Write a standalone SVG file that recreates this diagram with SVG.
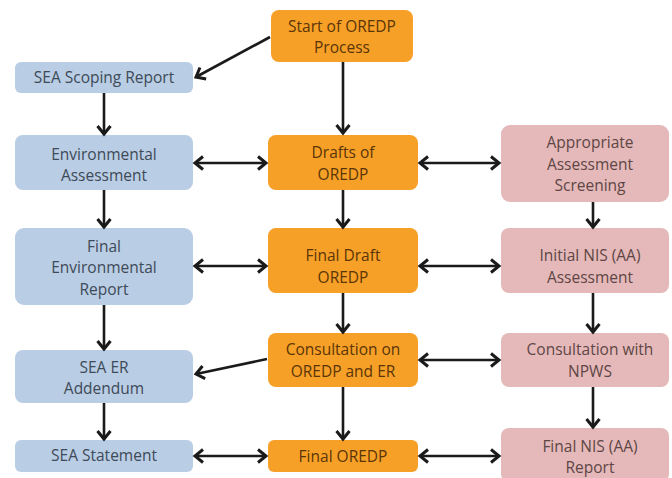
<svg xmlns="http://www.w3.org/2000/svg" width="672" height="478" viewBox="0 0 672 478">
<defs>
<marker id="ah" markerUnits="userSpaceOnUse" markerWidth="16" markerHeight="16" viewBox="0 0 16 16" refX="13" refY="8" orient="auto-start-reverse">
<path d="M5,1.5 L13,8 L5,14.5" fill="none" stroke="#1a1a1a" stroke-width="3" stroke-linejoin="miter"/>
</marker>
</defs>
<style>
.b rect{fill:#b9cde4}
.o rect{fill:#f7a027}
.p rect{fill:#e5b9b9}
text{font-family:"Open Sans","Noto Sans","Liberation Sans",sans-serif;font-size:15.5px;text-anchor:middle}
.b text{fill:#3e4a58}
.o text{fill:#5a3508}
.p text{fill:#5e4646}
#connectors line{stroke:#1a1a1a;stroke-width:2.6;fill:none;marker-end:url(#ah)}
#connectors line.d{marker-start:url(#ah)}
</style>
<rect width="672" height="478" fill="#ffffff"/>
<g id="start" class="o"><rect x="271" y="10" width="142" height="52" rx="8"/><text x="342" y="32">Start of OREDP</text><text x="342" y="53">Process</text></g>
<g id="scoping" class="b"><rect x="15" y="62" width="178" height="31" rx="6"/><text x="104" y="83">SEA Scoping Report</text></g>
<g id="envassess" class="b"><rect x="15" y="135" width="178" height="55" rx="8"/><text x="104" y="160">Environmental</text><text x="104" y="181">Assessment</text></g>
<g id="drafts" class="o"><rect x="268" y="135" width="150" height="55" rx="8"/><text x="343" y="158">Drafts of</text><text x="343" y="180">OREDP</text></g>
<g id="aascreen" class="p"><rect x="501" y="125" width="168" height="77" rx="9"/><text x="590" y="148">Appropriate</text><text x="590" y="170">Assessment</text><text x="590" y="191">Screening</text></g>
<g id="finalenv" class="b"><rect x="15" y="228" width="178" height="77" rx="9"/><text x="104" y="252">Final</text><text x="104" y="273">Environmental</text><text x="104" y="295">Report</text></g>
<g id="finaldraft" class="o"><rect x="268" y="228" width="150" height="65" rx="8"/><text x="343" y="261">Final Draft</text><text x="343" y="283">OREDP</text></g>
<g id="initialnis" class="p"><rect x="501" y="228" width="168" height="65" rx="8"/><text x="590" y="261">Initial NIS (AA)</text><text x="590" y="283">Assessment</text></g>
<g id="addendum" class="b"><rect x="15" y="350" width="178" height="53" rx="8"/><text x="104" y="373">SEA ER</text><text x="104" y="394">Addendum</text></g>
<g id="consult" class="o"><rect x="268" y="333" width="150" height="54" rx="8"/><text x="343" y="355">Consultation on</text><text x="343" y="377">OREDP and ER</text></g>
<g id="npws" class="p"><rect x="501" y="333" width="168" height="54" rx="8"/><text x="590" y="355">Consultation with</text><text x="590" y="377">NPWS</text></g>
<g id="statement" class="b"><rect x="15" y="440" width="178" height="32" rx="6"/><text x="104" y="461">SEA Statement</text></g>
<g id="finaloredp" class="o"><rect x="268" y="440" width="150" height="32" rx="6"/><text x="343" y="462">Final OREDP</text></g>
<g id="finalnis" class="p"><rect x="501" y="428" width="168" height="54" rx="8"/><text x="590" y="452">Final NIS (AA)</text><text x="590" y="473">Report</text></g>
<g id="connectors">
<line x1="270" y1="37" x2="196" y2="77"/>
<line x1="343" y1="62" x2="343" y2="133"/>
<line class="d" x1="195" y1="163" x2="266" y2="163"/>
<line class="d" x1="420" y1="163" x2="499" y2="163"/>
<line x1="343" y1="190" x2="343" y2="227"/>
<line class="d" x1="195" y1="266" x2="266" y2="266"/>
<line class="d" x1="420" y1="266" x2="499" y2="266"/>
<line x1="343" y1="293" x2="343" y2="332"/>
<line x1="267" y1="359" x2="196" y2="374"/>
<line class="d" x1="420" y1="360" x2="499" y2="360"/>
<line x1="343" y1="387" x2="343" y2="439"/>
<line class="d" x1="195" y1="456" x2="266" y2="456"/>
<line class="d" x1="420" y1="456" x2="499" y2="456"/>
<line x1="104" y1="93" x2="104" y2="134"/>
<line x1="104" y1="190" x2="104" y2="227"/>
<line x1="104" y1="305" x2="104" y2="349"/>
<line x1="104" y1="403" x2="104" y2="439"/>
<line x1="593" y1="202" x2="593" y2="227"/>
<line x1="593" y1="293" x2="593" y2="332"/>
<line x1="593" y1="387" x2="593" y2="427"/>
</g>
</svg>
